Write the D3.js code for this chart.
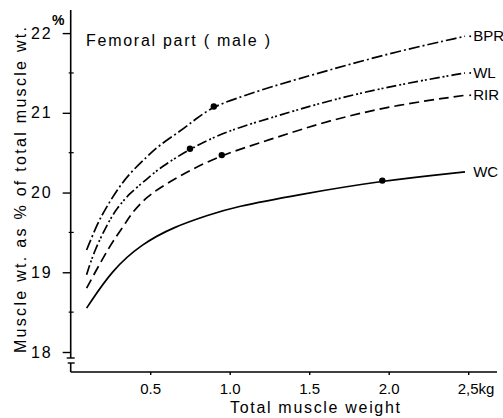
<!DOCTYPE html>
<html>
<head>
<meta charset="utf-8">
<script src="https://cdn.jsdelivr.net/npm/d3@7"></script>
<style>
  body { margin: 0; background: #fff; }
  svg { font-family: "Liberation Sans", Arial, sans-serif; }
</style>
</head>
<body>
<div id="chart"></div>
<script>
// femoral part (male): muscle wt as % of total muscle wt vs total muscle weight
const xTicks = [0.5, 1.0, 1.5, 2.0, 2.5];
const xTickLabels = ["0.5", "1.0", "1.5", "2.0", "2,5kg"];
const yTicks = [18, 19, 20, 21, 22];
const yMinorTicks = [18.5, 19.5, 20.5, 21.5];

// series: [total muscle weight (kg), percent]
const bpr = [[0.1,19.28],[0.17,19.62],[0.22,19.8],[0.29,20.03],[0.37,20.24],[0.48,20.45],[0.56,20.6],[0.69,20.77],[0.79,20.93],[0.9,21.08],[1.04,21.18],[1.23,21.31],[1.63,21.54],[2.05,21.77],[2.48,21.96]];
const wl  = [[0.1,18.97],[0.15,19.28],[0.24,19.64],[0.29,19.8],[0.37,19.99],[0.48,20.17],[0.56,20.31],[0.75,20.55],[0.98,20.77],[1.23,20.92],[1.63,21.16],[2.05,21.35],[2.48,21.5]];
const rir = [[0.1,18.8],[0.24,19.32],[0.34,19.6],[0.39,19.76],[0.48,19.95],[0.6,20.11],[0.77,20.3],[0.95,20.47],[1.23,20.65],[1.63,20.91],[2.05,21.1],[2.48,21.22]];
const wc  = [[0.1,18.55],[0.26,19.03],[0.45,19.36],[0.65,19.57],[0.87,19.72],[1.03,19.82],[1.42,19.97],[1.96,20.15],[2.48,20.26]];

const seriesNames = ["BPR", "WL", "RIR", "WC"];
const seriesData = [bpr, wl, rir, wc];
const seriesDash = ["11,3,2,3", "10,3,2,2,2,3", "10,5", null];
// highlighted points on each curve
const markers = [[0.9,21.08],[0.75,20.55],[0.95,20.47],[1.96,20.15]];

const width = 503, height = 418;

let svg = d3.select("#chart")
    .append("svg")
    .attr("width", width)
    .attr("height", height);

let x = d3.scaleLinear().domain([0, 2.5]).range([70.7, 468.2]);
let y = d3.scaleLinear().domain([18, 22]).range([352, 33.1]);

const axisX = 70.7, baseY = 372;

// y axis line with a break near the bottom
svg.append("line")
    .attr("x1", axisX).attr("x2", axisX)
    .attr("y1", 10).attr("y2", 358)
    .attr("stroke", "#000").attr("stroke-width", 1.6);
svg.append("line")
    .attr("x1", axisX - 4).attr("x2", axisX + 4)
    .attr("y1", 358).attr("y2", 358)
    .attr("stroke", "#000").attr("stroke-width", 1.4);
svg.append("line")
    .attr("x1", axisX - 3).attr("x2", axisX + 4)
    .attr("y1", 363).attr("y2", 363)
    .attr("stroke", "#000").attr("stroke-width", 1.4);
svg.append("line")
    .attr("x1", axisX).attr("x2", axisX)
    .attr("y1", 363).attr("y2", baseY)
    .attr("stroke", "#000").attr("stroke-width", 1.6);

// x axis line
svg.append("line")
    .attr("x1", axisX).attr("x2", 497)
    .attr("y1", baseY).attr("y2", baseY)
    .attr("stroke", "#000").attr("stroke-width", 1.6);

// y ticks
let yAxis = svg.append("g")
    .attr("transform", `translate(${axisX},0)`)
    .call(d3.axisLeft(y).tickValues(yTicks).tickSize(8).tickPadding(10).tickFormat(d3.format("d")));
yAxis.select(".domain").remove();
yAxis.selectAll("line").attr("stroke-width", 1.4);
yAxis.selectAll("text")
    .style("font-size", "16px")
    .style("letter-spacing", "2px")
    .attr("fill", "#000");

svg.append("g").selectAll("line")
    .data(yMinorTicks)
    .enter().append("line")
    .attr("x1", axisX - 2).attr("x2", axisX + 3)
    .attr("y1", d => y(d)).attr("y2", d => y(d))
    .attr("stroke", "#000").attr("stroke-width", 1.2);

// x ticks
let xAxis = svg.append("g")
    .attr("transform", `translate(0,${baseY})`)
    .call(d3.axisBottom(x).tickValues(xTicks).tickSize(3).tickPadding(8)
        .tickFormat((d, i) => xTickLabels[i]));
xAxis.select(".domain").remove();
xAxis.selectAll("line").attr("stroke-width", 1.4);
xAxis.selectAll("text")
    .style("font-size", "15px")
    .attr("fill", "#000")
    .filter((d, i) => i === xTicks.length - 1)
    .attr("text-anchor", "start")
    .attr("x", -11);

// percent sign at the top of y axis
svg.append("text")
    .attr("x", 52).attr("y", 25)
    .style("font-size", "14px")
    .style("font-weight", "bold")
    .text("%");

// axis titles
svg.append("text")
    .attr("transform", `translate(26,190) rotate(-90)`)
    .attr("text-anchor", "middle")
    .attr("textLength", 326)
    .attr("lengthAdjust", "spacing")
    .style("font-size", "16px")
    .text("Muscle wt. as % of total muscle wt.");

svg.append("text")
    .attr("x", 315).attr("y", 413)
    .attr("text-anchor", "middle")
    .attr("textLength", 170)
    .attr("lengthAdjust", "spacing")
    .style("font-size", "16px")
    .text("Total muscle weight");

// panel title
svg.append("text")
    .attr("x", 86).attr("y", 46)
    .attr("textLength", 184)
    .attr("lengthAdjust", "spacing")
    .style("font-size", "16px")
    .text("Femoral part ( male )");

// curves
let line = d3.line()
    .x(d => x(d[0]))
    .y(d => y(d[1]))
    .curve(d3.curveBasis);

svg.append("g").selectAll("path")
    .data(seriesData)
    .enter().append("path")
    .attr("d", d => line(d))
    .attr("fill", "none")
    .attr("stroke", "#000")
    .attr("stroke-width", 1.7)
    .attr("stroke-dasharray", (d, i) => seriesDash[i]);

// marked points
svg.append("g").selectAll("circle")
    .data(markers)
    .enter().append("circle")
    .attr("cx", d => x(d[0]))
    .attr("cy", d => y(d[1]))
    .attr("r", 3.2)
    .attr("fill", "#000");

// leader dots and curve labels
let last = seriesData.map(s => s[s.length - 1]);
svg.append("g").selectAll("circle")
    .data(last.slice(0, 3))
    .enter().append("circle")
    .attr("cx", x(2.5) + 2)
    .attr("cy", d => y(d[1]))
    .attr("r", 1)
    .attr("fill", "#000");

svg.append("g").selectAll("text")
    .data(last)
    .enter().append("text")
    .attr("x", x(2.5) + 5)
    .attr("y", d => y(d[1]) + 5)
    .style("font-size", "15px")
    .text((d, i) => seriesNames[i]);
</script>
</body>
</html>
